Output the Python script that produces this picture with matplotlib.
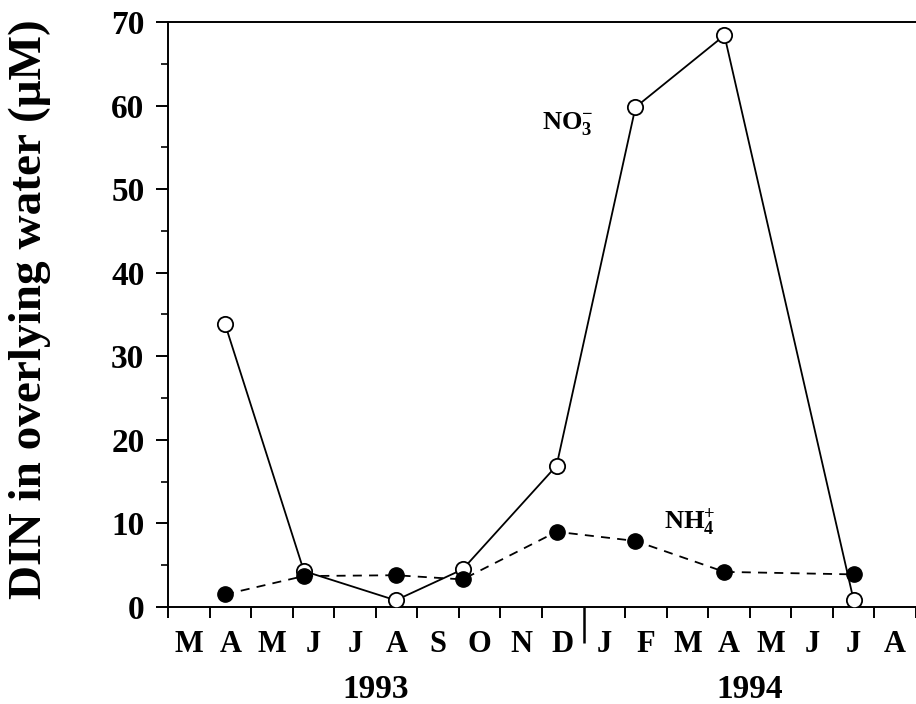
import matplotlib
matplotlib.use("Agg")
import matplotlib.pyplot as plt
from matplotlib.ticker import MultipleLocator, FixedLocator, NullFormatter, FixedFormatter

plt.rcParams['font.family'] = ['Liberation Serif', 'DejaVu Serif']
plt.rcParams['font.weight'] = 'bold'
plt.rcParams['mathtext.fontset'] = 'custom'
plt.rcParams['mathtext.rm'] = 'Liberation Serif:bold'
plt.rcParams['mathtext.bf'] = 'Liberation Serif:bold'
plt.rcParams['mathtext.it'] = 'Liberation Serif:bold'

# months since 1 March 1993
month_labels = ['M', 'A', 'M', 'J', 'J', 'A', 'S', 'O', 'N', 'D',
                'J', 'F', 'M', 'A', 'M', 'J', 'J', 'A']
sample_t = [1.37, 3.27, 5.48, 7.09, 9.35, 11.25, 13.39, 16.5]
no3 = [33.9, 4.3, 0.8, 4.5, 16.9, 59.8, 68.4, 0.8]
nh4 = [1.5, 3.7, 3.8, 3.3, 9.0, 7.9, 4.2, 3.9]
years = ['1993', '1994']
year_pos = [5.0, 14.0]

fig = plt.figure(figsize=(9.16, 7.04), dpi=100)
ax = fig.add_axes([0.1834, 0.1378, 0.8166, 0.831])

ax.plot(sample_t, no3, '-', color='black', lw=1.3, marker='o', ms=11,
        mfc='white', mec='black', mew=1.3, zorder=3)
ax.plot(sample_t, nh4, color='black', lw=1.3, dashes=(5, 4), marker='o',
        ms=11, mfc='black', mec='black', zorder=4)

ax.text(9.62, 57.8, r'$\mathrm{NO_3^{-}}$', fontsize=19, ha='center', va='center')
ax.text(12.55, 10.2, r'$\mathrm{NH_4^{+}}$', fontsize=19, ha='center', va='center')

ax.set_xlim(0, 18)
ax.set_ylim(0, 70)

ax.spines['right'].set_visible(False)
for s in ['left', 'top', 'bottom']:
    ax.spines[s].set_linewidth(1.4)

# y axis
ax.yaxis.set_major_locator(MultipleLocator(10))
ax.yaxis.set_minor_locator(MultipleLocator(5))
ax.tick_params(axis='y', which='major', direction='out', length=9, width=1.4,
               labelsize=24, pad=8)
ax.tick_params(axis='y', which='minor', direction='out', length=5, width=1.2)
ax.set_ylabel('DIN in overlying water (\u03bcM)', fontsize=34, fontweight='bold')
ax.yaxis.set_label_coords(-0.156, 0.51)

# x axis: ticks at month boundaries, labels at month centres
ax.xaxis.set_major_locator(FixedLocator(range(0, 19)))
ax.xaxis.set_major_formatter(NullFormatter())
ax.xaxis.set_minor_locator(FixedLocator([i + 0.5 for i in range(18)]))
ax.xaxis.set_minor_formatter(FixedFormatter(month_labels))
ax.tick_params(axis='x', which='major', direction='out', length=8, width=1.4,
               top=False)
ax.tick_params(axis='x', which='minor', length=0, labelsize=22, pad=27, top=False)
for lab in ax.get_xticklabels(minor=True):
    lab.set_fontweight('bold')
    lab.set_va('center')
for lab in ax.get_yticklabels():
    lab.set_fontweight('bold')

# year divider at January 1994
ax.xaxis.get_major_ticks()[10].tick1line.set_markersize(26)
ax.xaxis.get_major_ticks()[10].tick1line.set_markeredgewidth(1.8)

for yr, xp in zip(years, year_pos):
    ax.text(xp, -0.141, yr, transform=ax.get_xaxis_transform(), fontsize=24,
            fontweight='bold', ha='center', va='center')

fig.savefig('out.png', dpi=100)
